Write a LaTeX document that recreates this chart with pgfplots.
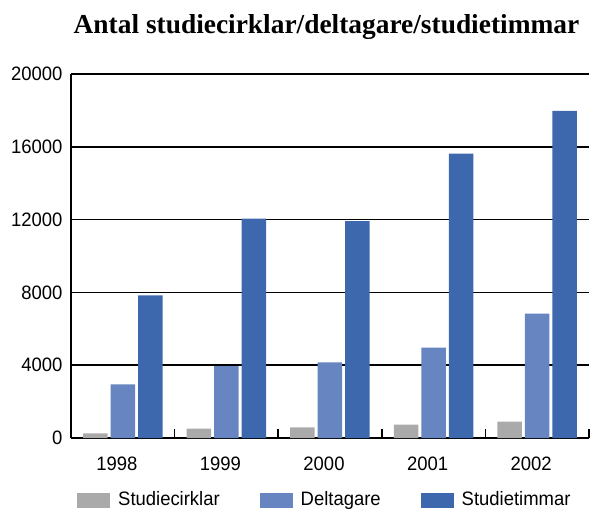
\documentclass[border=0pt]{standalone}
\usepackage{fontspec}
\setmainfont[FakeStretch=0.95]{Liberation Sans}
\newfontfamily\titlefont{Liberation Serif}
\usepackage{pgfplots}
\pgfplotsset{compat=1.18}
\definecolor{cgray}{RGB}{170,170,170}
\definecolor{clight}{RGB}{103,133,192}
\definecolor{cdark}{RGB}{61,104,173}
\begin{document}
\begin{tikzpicture}
\begin{axis}[
  at={(0,0)}, anchor=south west,
  scale only axis, width=518bp, height=364bp,
  xmin=-0.5, xmax=4.5, ymin=0, ymax=20000,
  axis x line*=bottom, axis y line*=left,
  axis line style={line width=1.6bp, black},
  ytick={0,4000,8000,12000,16000,20000},
  scaled y ticks=false,
  ymajorgrids, major grid style={line width=1.5bp, black},
  xtick={0,1,2,3,4}, xticklabels={1998,1999,2000,2001,2002},
  minor xtick={0.5,1.5,2.5,3.5,4.5},
  major tick length=0pt, minor tick length=9bp,
  minor tick style={line width=1.6bp, black},
  tick label style={font=\fontsize{19.5}{22}\selectfont},
  xticklabel style={yshift=-15bp, xshift=-6bp},
  yticklabel style={xshift=-5bp},
  /pgf/number format/assume math mode=true,
  /pgf/number format/1000 sep={},
  title={\titlefont\bfseries\fontsize{27.5}{30}\selectfont Antal studiecirklar/deltagare/studietimmar},
  title style={at={(0.4932,1)}, anchor=base, yshift=35bp, inner sep=0pt},
  legend image code/.code={\fill[#1] (0bp,-8bp) rectangle (33bp,7bp);},
  legend columns=3,
  legend style={at={(0.0116,-0.142)}, anchor=north west, draw=none, fill=none,
    inner sep=0pt, font=\fontsize{19.5}{22}\selectfont,
    /tikz/every odd column/.append style={column sep=6bp},
    /tikz/every even column/.append style={column sep=38bp}},
]
\addplot[ybar, fill=cgray, draw=none, bar width=24.5bp, bar shift=-27.5bp]
  coordinates {(0,250) (1,520) (2,580) (3,740) (4,900)};
\addplot[ybar, fill=clight, draw=none, bar width=24.5bp, bar shift=0bp]
  coordinates {(0,2940) (1,3950) (2,4150) (3,4970) (4,6840)};
\addplot[ybar, fill=cdark, draw=none, bar width=24.5bp, bar shift=27.5bp]
  coordinates {(0,7830) (1,12050) (2,11920) (3,15620) (4,17970)};
\legend{Studiecirklar, Deltagare, Studietimmar}
\end{axis}
\pgfresetboundingbox
\useasboundingbox (-71bp,-72bp) rectangle (519bp,438bp);
\end{tikzpicture}
\end{document}
